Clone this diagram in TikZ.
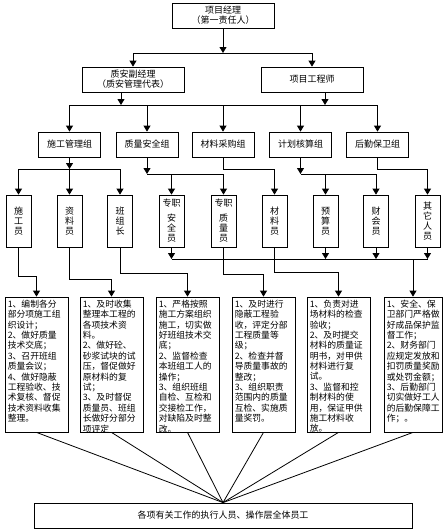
\documentclass[tikz,border=0pt]{standalone}
\usepackage{fontspec}
\setmainfont{Noto Sans CJK SC}
\usetikzlibrary{arrows.meta}
\begin{document}
\begin{tikzpicture}[x=1pt,y=-1pt,
  ln/.style={line width=0.8pt},
  arr/.style={line width=0.8pt,-{Triangle[width=7pt,length=6pt]}},
  box/.style={draw,line width=0.8pt,inner sep=0pt,align=center,font=\fontsize{9}{10}\selectfont},
  pbox/.style={box,minimum width=25pt,minimum height=52pt},
  gbox/.style={box,minimum width=62pt,minimum height=25pt},
  tbox/.style={draw,line width=0.8pt,minimum height=135pt,inner sep=0pt},
  ttext/.style={anchor=north west,inner sep=0pt,align=left,font=\fontsize{8.8}{10.4}\selectfont}]
\useasboundingbox (0,0) rectangle (445,531);

% level 1-2
\node[box,minimum width=102pt,minimum height=25pt] (top) at (223,15.5) {项目经理\\（第一责任人）};
\node[box,minimum width=102pt,minimum height=25pt] (fuji) at (133,79.5) {质安副经理\\（质安管理代表）};
\node[box,minimum width=102pt,minimum height=25pt] (eng) at (312,79.5) {项目工程师};

% level 3
\node[gbox] (g1) at (69.5,144.5) {施工管理组};
\node[gbox] (g2) at (147,144.5) {质量安全组};
\node[gbox] (g3) at (223,144.5) {材料采购组};
\node[gbox] (g4) at (300.5,144.5) {计划核算组};
\node[gbox] (g5) at (377.5,144.5) {后勤保卫组};

% level 4
\node[pbox] (p1) at (18.5,221) {施\\工\\员};
\node[pbox] (p2) at (69.5,221) {资\\料\\员};
\node[pbox] (p3) at (120,221) {班\\组\\长};
\node[pbox] (p4) at (171.5,221) {专职\\[5pt]安\\全\\员};
\node[pbox] (p5) at (223.5,221) {专职\\[5pt]质\\量\\员};
\node[pbox] (p6) at (274.5,221) {材\\料\\员};
\node[pbox] (p7) at (325.5,221) {预\\算\\员};
\node[pbox] (p8) at (376,221) {财\\会\\员};
\node[pbox] (p9) at (427.5,221) {其\\它\\人\\员};

% level 5 boxes
\node[tbox,minimum width=63pt] (t1) at (36.5,364.5) {};
\node[tbox,minimum width=63pt] (t2) at (111.5,364.5) {};
\node[tbox,minimum width=63pt] (t3) at (187.5,364.5) {};
\node[tbox,minimum width=63pt] (t4) at (263.5,364.5) {};
\node[tbox,minimum width=63pt] (t5) at (338.5,364.5) {};
\node[tbox,minimum width=58pt] (t6) at (413,364.5) {};

\node[ttext] (x1) at ([xshift=3pt,yshift=-3pt]t1.north west) {1、编制各分\\部分项施工组\\织设计；\\2、做好质量\\技术交底；\\3、召开班组\\质量会议；\\4、做好隐蔽\\工程验收、技\\术复核、督促\\技术资料收集\\整理。};
\node[ttext] (x2) at ([xshift=3pt,yshift=-3pt]t2.north west) {1、及时收集\\整理本工程的\\各项技术资\\料。\\2、做好砼、\\砂浆试块的试\\压，督促做好\\原材料的复\\试；\\3、及时督促\\质量员、班组\\长做好分部分\\项评定};
\node[ttext] (x3) at ([xshift=3pt,yshift=-3pt]t3.north west) {1、严格按照\\施工方案组织\\施工，切实做\\好班组技术交\\底；\\2、监督检查\\本班组工人的\\操作；\\3、组织班组\\自检、互检和\\交接检工作，\\对缺陷及时整\\改。};
\node[ttext] (x4) at ([xshift=3pt,yshift=-3pt]t4.north west) {1、及时进行\\隐蔽工程验\\收，评定分部\\工程质量等\\级；\\2、检查并督\\导质量事故的\\整改；\\3、组织职责\\范围内的质量\\互检、实施质\\量奖罚。};
\node[ttext] (x5) at ([xshift=3pt,yshift=-3pt]t5.north west) {1、负责对进\\场材料的检查\\验收；\\2、及时提交\\材料的质量证\\明书，对甲供\\材料进行复\\试。\\3、监督和控\\制材料的使\\用，保证甲供\\施工材料收\\放。};
\node[ttext] (x6) at ([xshift=3pt,yshift=-3pt]t6.north west) {1、安全、保\\卫部门严格做\\好成品保护监\\督工作；\\2、财务部门\\应规定发放和\\扣罚质量奖励\\或处罚金额；\\3、后勤部门\\切实做好工人\\的后勤保障工\\作；。};

\node[box,minimum width=378pt,minimum height=25pt] (bot) at (223,515.5) {各项有关工作的执行人员、操作层全体员工};

% junction coordinates
\coordinate (j1) at (223,53);
\coordinate (j2) at (121,105);
\coordinate (j3) at (325,105);
\coordinate (h1) at (0,169);
\coordinate (h2) at (0,174);
\coordinate (c1) at (0,259);

% connectors level 1-2
\draw[arr] (top) -- (j1);
\draw[ln] (fuji |- j1) -- (eng |- j1);
\draw[arr] (fuji |- j1) -- (fuji);
\draw[arr] (eng |- j1) -- (eng);

% level 2-3
\draw[arr] (fuji.south -| j2) -- (j2);
\draw[arr] (eng.south -| j3) -- (j3);
\draw[ln] (g1 |- j2) -- (g5 |- j2);
\foreach \g in {g1,g2,g3,g4,g5} \draw[arr] (\g |- j2) -- (\g);

% level 3-4
\draw[arr] (g1) -- (g1 |- h1);
\draw[ln] (p1 |- h1) -- (p3 |- h1);
\foreach \p in {p1,p2,p3} \draw[arr] (\p |- h1) -- (\p);
\draw[arr] (g2) -- (g2 |- h2);
\draw[ln] (g2 |- h2) -- (p5 |- h2);
\foreach \p in {p4,p5} \draw[arr] (\p |- h2) -- (\p);
\draw[arr] (g3.south) -- (g3.south |- h1) -| (p6);
\draw[arr] (g4) -- (g4 |- h2);
\draw[ln] (g4 |- h2) -- (p8 |- h2);
\foreach \p in {p7,p8} \draw[arr] (\p |- h2) -- (\p);
\draw[arr] (g5.south) -- (g5.south |- h1) -| (p9);

% level 4-5
\draw[arr] (p1.south) -- ++(0,29) -| (t1);
\draw[arr] (p2.south) -- ++(0,32) -| (t2);
\draw[arr] (p3.south) -- ++(0,26) -| (t3);
\draw[arr] (p5.south) -- ++(0,27) -| (t4);
\draw[arr] (p6.south) -- ++(0,25) -| (t5);
\foreach \p in {p4,p7,p8,p9} \draw[arr] (\p) -- (\p |- c1);
\draw[ln] (p4 |- c1) -- (p9 |- c1);
\draw[arr] (t6 |- c1) -- (t6);

% to bottom
\foreach \t in {t1,t2,t3,t4,t5,t6} \draw[ln] (\t.south) -- (bot.north);
\end{tikzpicture}
\end{document}
